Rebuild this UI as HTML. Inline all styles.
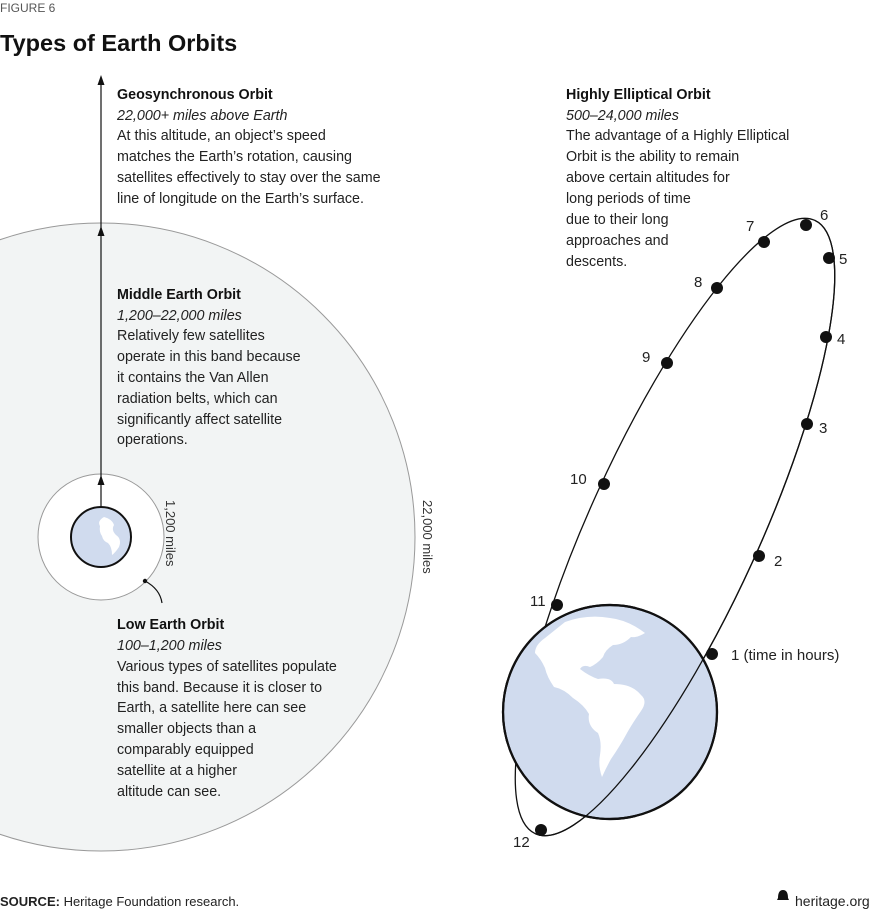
<!DOCTYPE html>
<html><head><meta charset="utf-8"><style>
html,body{margin:0;padding:0;background:#fff;}
svg{display:block;font-family:"Liberation Sans",sans-serif;}
.t{font-size:14.3px;fill:#222;}
.b{font-weight:bold;fill:#111;}
.i{font-style:italic;}
.n{font-size:15px;fill:#222;}
</style></head><body>
<svg width="884" height="910" viewBox="0 0 884 910" xmlns="http://www.w3.org/2000/svg">
<defs>
<clipPath id="rh"><rect x="-400" y="-200" width="800" height="200"/></clipPath>
</defs>
<text x="0" y="12" font-size="12" fill="#555">FIGURE 6</text>
<text x="0" y="51" font-size="23.5" font-weight="bold" fill="#111">Types of Earth Orbits</text>

<!-- left diagram -->
<circle cx="101" cy="537" r="314" fill="#f2f4f4" stroke="#999" stroke-width="1"/>
<circle cx="101" cy="537" r="63" fill="#fff" stroke="#999" stroke-width="1"/>
<circle cx="101" cy="537" r="30" fill="#d0dbee" stroke="#111" stroke-width="2"/>
<path d="M104 517 q8 2 10 8 q-3 5 2 10 q6 4 3 12 q-4 6 -7 8 q0 -8 -4 -12 q-5 -2 -6 -7 q-3 -4 -2 -10 q-3 -5 4 -9z" fill="#fff"/>
<line x1="101" y1="507" x2="101" y2="80" stroke="#111" stroke-width="1.2"/>
<path d="M101 75 l-3.5 10 h7z M101 226 l-3.5 10 h7z M101 475 l-3.5 10 h7z" fill="#111"/>
<circle cx="145" cy="581" r="2.2" fill="#111"/>
<path d="M145 581 q15 8 17 22" fill="none" stroke="#111" stroke-width="1.2"/>
<text transform="translate(166 500) rotate(90)" font-size="13" fill="#333">1,200 miles</text>
<text transform="translate(423 500) rotate(90)" font-size="13" fill="#333">22,000 miles</text>

<g class="t">
<text x="117" y="99" class="t b">Geosynchronous Orbit</text>
<text x="117" y="120" class="t i">22,000+ miles above Earth</text>
<text x="117" y="140">At this altitude, an object’s speed</text>
<text x="117" y="161">matches the Earth’s rotation, causing</text>
<text x="117" y="182">satellites effectively to stay over the same</text>
<text x="117" y="203">line of longitude on the Earth’s surface.</text>

<text x="117" y="299" class="t b">Middle Earth Orbit</text>
<text x="117" y="320" class="t i">1,200–22,000 miles</text>
<text x="117" y="340">Relatively few satellites</text>
<text x="117" y="361">operate in this band because</text>
<text x="117" y="382">it contains the Van Allen</text>
<text x="117" y="403">radiation belts, which can</text>
<text x="117" y="424">significantly affect satellite</text>
<text x="117" y="444">operations.</text>

<text x="117" y="629" class="t b">Low Earth Orbit</text>
<text x="117" y="650" class="t i">100–1,200 miles</text>
<text x="117" y="671">Various types of satellites populate</text>
<text x="117" y="692">this band. Because it is closer to</text>
<text x="117" y="712">Earth, a satellite here can see</text>
<text x="117" y="733">smaller objects than a</text>
<text x="117" y="754">comparably equipped</text>
<text x="117" y="775">satellite at a higher</text>
<text x="117" y="796">altitude can see.</text>

<text x="566" y="99" class="t b">Highly Elliptical Orbit</text>
<text x="566" y="120" class="t i">500–24,000 miles</text>
<text x="566" y="140">The advantage of a Highly Elliptical</text>
<text x="566" y="161">Orbit is the ability to remain</text>
<text x="566" y="182">above certain altitudes for</text>
<text x="566" y="203">long periods of time</text>
<text x="566" y="224">due to their long</text>
<text x="566" y="245">approaches and</text>
<text x="566" y="266">descents.</text>
</g>

<!-- right diagram -->
<ellipse cx="675" cy="527" rx="337" ry="85" transform="rotate(114.5 675 527)" fill="none" stroke="#111" stroke-width="1.3"/>
<circle cx="610" cy="712" r="107" fill="#d0dbee" stroke="#111" stroke-width="2.2"/>
<g fill="#fff">
<path d="M565 622 q22 -8 45 -4 q18 2 35 15 q-8 5 -14 4 q-8 8 -18 8 q-8 5 -10 12 q-6 7 -13 10 q-7 -3 -10 2 q9 7 18 10 q13 -2 16 5 q18 0 27 11 q7 6 0 16 q-9 13 -14 22 q-7 13 -16 26 q-5 9 -9 18 q-4 -11 -2 -22 q2 -13 -2 -22 q-11 -7 -9 -19 q-5 -9 -16 -16 q-9 -9 -19 -11 q-7 -10 -9 -19 q-4 -9 -10 -15 q0 -8 10 -15z"/>
</g>
<g transform="translate(675 527) rotate(114.5)">
<ellipse cx="0" cy="0" rx="337" ry="85" fill="none" stroke="#111" stroke-width="1.3" clip-path="url(#rh)"/>
</g>
<circle cx="610" cy="712" r="107" fill="none" stroke="#111" stroke-width="2.2"/>
<g fill="#111">
<circle cx="712" cy="654" r="6"/><circle cx="759" cy="556" r="6"/><circle cx="807" cy="424" r="6"/>
<circle cx="826" cy="337" r="6"/><circle cx="829" cy="258" r="6"/><circle cx="806" cy="225" r="6"/>
<circle cx="764" cy="242" r="6"/><circle cx="717" cy="288" r="6"/><circle cx="667" cy="363" r="6"/>
<circle cx="604" cy="484" r="6"/><circle cx="557" cy="605" r="6"/><circle cx="541" cy="830" r="6"/>
</g>
<g class="n">
<text x="731" y="660">1 (time in hours)</text>
<text x="774" y="566">2</text>
<text x="819" y="433">3</text>
<text x="837" y="344">4</text>
<text x="839" y="264">5</text>
<text x="820" y="220">6</text>
<text x="746" y="231">7</text>
<text x="694" y="287">8</text>
<text x="642" y="362">9</text>
<text x="570" y="484">10</text>
<text x="530" y="606">11</text>
<text x="513" y="847">12</text>
</g>

<text x="0" y="906" font-size="13" fill="#222"><tspan font-weight="bold">SOURCE:</tspan> Heritage Foundation research.</text>
<path d="M778 898 q0 -8 5 -8 q5 0 5 8 l1 2 h-12z" fill="#111"/>
<text x="795" y="906" font-size="14" fill="#222">heritage.org</text>
</svg>
</body></html>
